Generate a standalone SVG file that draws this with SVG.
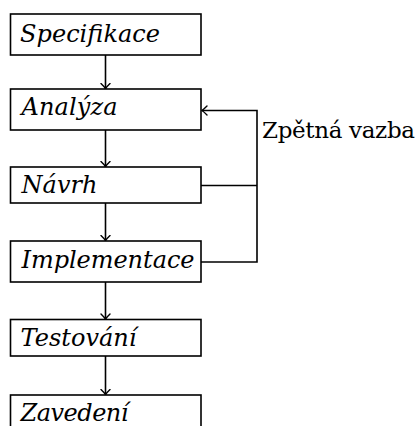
<svg xmlns="http://www.w3.org/2000/svg" width="419" height="426" viewBox="0 0 419 426">
<style>
.box{fill:#fff;stroke:#000;stroke-width:1.6}
.t{font-family:'DejaVu Serif','Liberation Serif',serif;font-style:italic;font-size:24px;fill:#000}
.lbl{font-family:'DejaVu Serif','Liberation Serif',serif;font-size:23px;fill:#000}
.ln{fill:none;stroke:#000;stroke-width:1.6}
</style>
<defs>
<marker id="ah" viewBox="-6 -6 8 12" markerWidth="8" markerHeight="12" refX="0" refY="0" orient="auto" markerUnits="userSpaceOnUse">
<path d="M-5,-4.5 Q-1.5,-1 0,0 Q-1.5,1 -5,4.5" fill="none" stroke="#000" stroke-width="1.4" stroke-linecap="round"/>
</marker>
</defs>
<g id="connectors">
<line class="ln" x1="105.5" y1="55" x2="105.5" y2="88.5" marker-end="url(#ah)"/>
<line class="ln" x1="105.5" y1="130" x2="105.5" y2="166.5" marker-end="url(#ah)"/>
<line class="ln" x1="105.5" y1="203" x2="105.5" y2="240.5" marker-end="url(#ah)"/>
<line class="ln" x1="105.5" y1="282" x2="105.5" y2="319" marker-end="url(#ah)"/>
<line class="ln" x1="105.5" y1="356" x2="105.5" y2="394.5" marker-end="url(#ah)"/>
<polyline class="ln" points="201,262 257,262 257,110.5 202,110.5" marker-end="url(#ah)"/>
<line class="ln" x1="201" y1="185.5" x2="257" y2="185.5"/>
<text class="lbl" x="262" y="138" textLength="153" lengthAdjust="spacing">Zpětná vazba</text>
</g>
<g id="specifikace">
<rect class="box" x="10.5" y="14" width="190.5" height="41"/>
<text class="t" x="20" y="41.5" textLength="140" lengthAdjust="spacing">Specifikace</text>
</g>
<g id="analyza">
<rect class="box" x="10.5" y="89" width="190.5" height="41"/>
<text class="t" x="21.5" y="115" textLength="96" lengthAdjust="spacing">Analýza</text>
</g>
<g id="navrh">
<rect class="box" x="10.5" y="167" width="190.5" height="36"/>
<text class="t" x="21.5" y="193" textLength="76" lengthAdjust="spacing">Návrh</text>
</g>
<g id="implementace">
<rect class="box" x="10.5" y="241" width="190.5" height="41"/>
<text class="t" x="21.5" y="268" textLength="173" lengthAdjust="spacing">Implementace</text>
</g>
<g id="testovani">
<rect class="box" x="10.5" y="319.5" width="190.5" height="36.5"/>
<text class="t" x="20.5" y="346" textLength="116" lengthAdjust="spacing">Testování</text>
</g>
<g id="zavedeni">
<rect class="box" x="10.5" y="395" width="190.5" height="36"/>
<text class="t" x="20.5" y="421" textLength="108" lengthAdjust="spacing">Zavedení</text>
</g>
</svg>
